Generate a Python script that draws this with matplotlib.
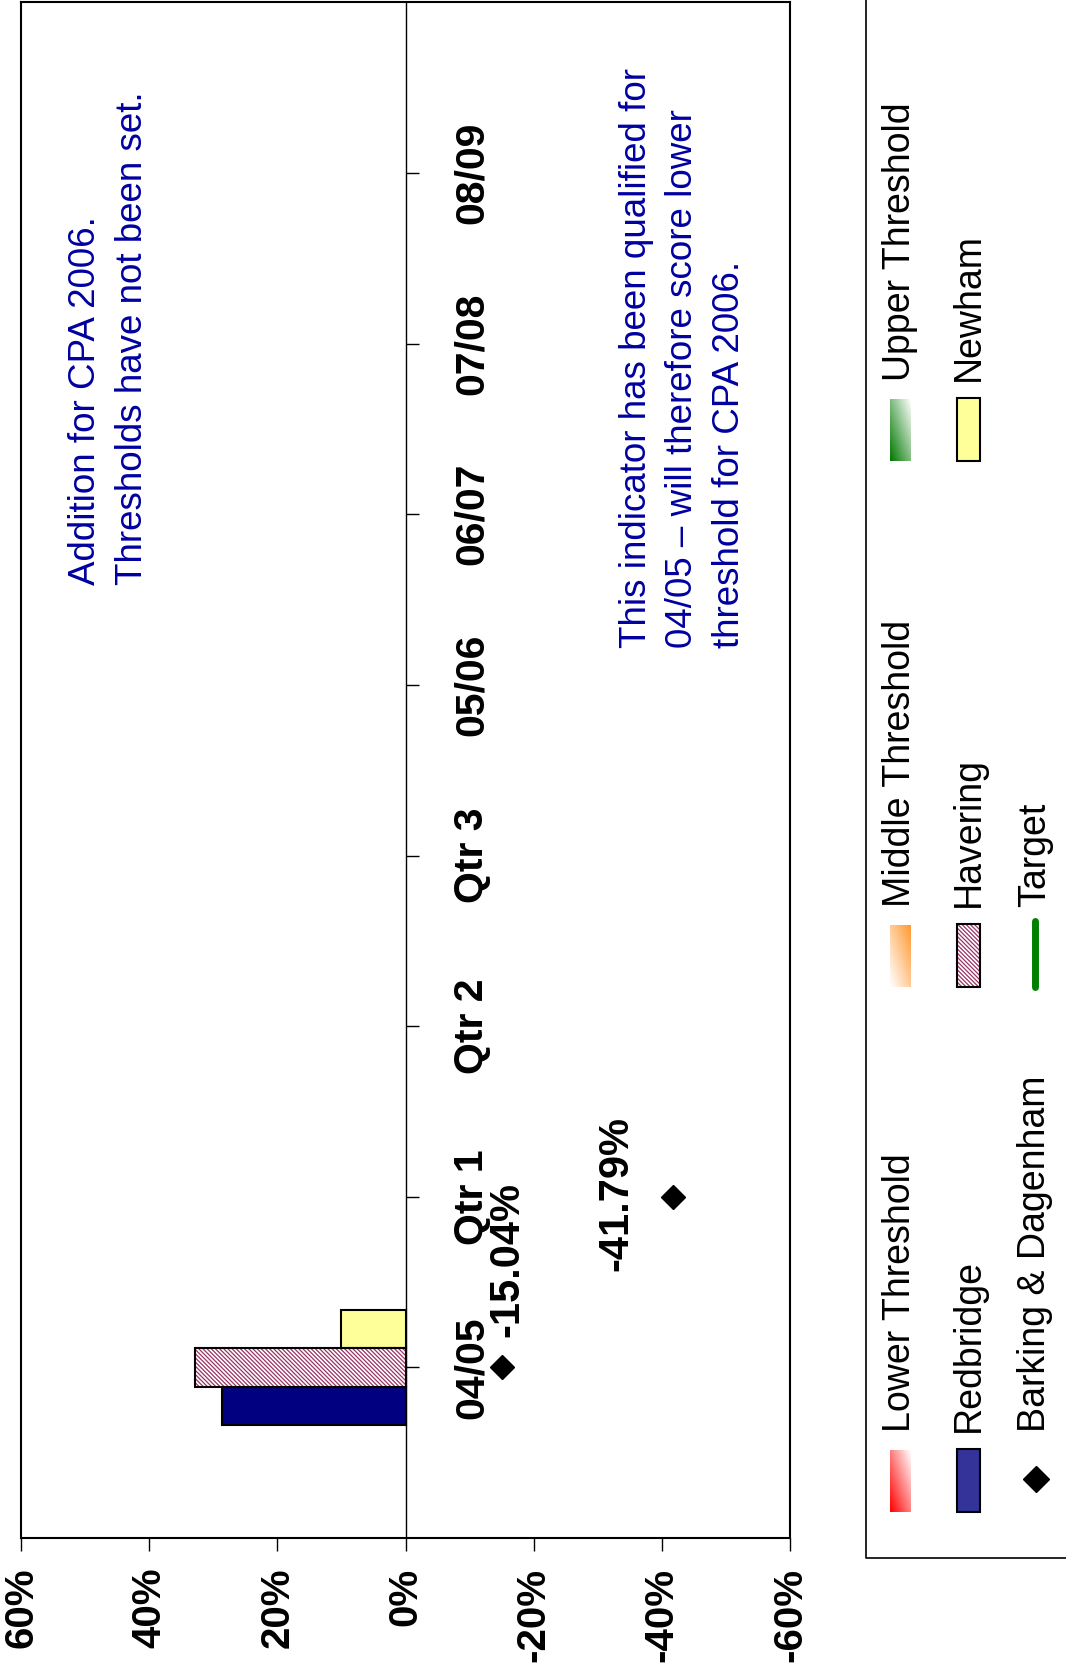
import numpy as np
import matplotlib.pyplot as plt

plt.rcParams['font.family'] = ['Liberation Sans', 'DejaVu Sans']
plt.rcParams['hatch.linewidth'] = 0.9

# Periods along the category axis
periods = ['04/05', 'Qtr 1', 'Qtr 2', 'Qtr 3', '05/06', '06/07', '07/08', '08/09']
nan = np.nan

# Borough results (%)
redbridge = [28.7, nan, nan, nan, nan, nan, nan, nan]
havering = [32.8, nan, nan, nan, nan, nan, nan, nan]
newham = [10.1, nan, nan, nan, nan, nan, nan, nan]
barking = [-15.04, -41.79, nan, nan, nan, nan, nan, nan]

value_ticks = [60, 40, 20, 0, -20, -40, -60]
value_labels = ['60%', '40%', '20%', '0%', '-20%', '-40%', '-60%']

note_left = 'Addition for CPA 2006.\nThresholds have not been set.'
note_right = ('This indicator has been qualified for\n'
              '04/05 \u2013 will therefore score lower\n'
              'threshold for CPA 2006.')

W, H = 1066, 1675
fig = plt.figure(figsize=(W / 100, H / 100), dpi=100)


def box(x0, y0, x1, y1):
    # pixel box (origin top-left) to figure fraction
    return [x0 / W, 1 - y1 / H, (x1 - x0) / W, (y1 - y0) / H]


# chart is drawn turned on its side: categories run up, values run left
ax = fig.add_axes(box(21, 2.4, 790, 1538))
pos = np.arange(len(periods))
bh = 0.225
hatch = '\\' * 8

ax.barh(pos - bh, redbridge, height=bh, color='#000080', edgecolor='black', lw=1.5, zorder=2)
ax.barh(pos, havering, height=bh, color='white', edgecolor='#993366',
        hatch=hatch, lw=0, zorder=2)
ax.barh(pos, havering, height=bh, fill=False, edgecolor='black', lw=1.5, zorder=3)
ax.barh(pos + bh, newham, height=bh, color='#FFFF99', edgecolor='black', lw=1.5, zorder=2)

# category axis at 0 with its ticks
ax.axvline(0, color='black', lw=1, zorder=1)
ax.hlines(pos, 0, -2.1, color='black', lw=1, zorder=1)
for p, name in zip(pos, periods):
    ax.text(-10.3, p, name, rotation=90, ha='center', va='center',
            fontsize=29.5, fontweight='bold')

ax.plot(barking, pos, 'D', color='black', ms=12, ls='none', zorder=4)
label_offsets = [(4, 78), (-41, 2)]
for v, p, off in zip(barking, pos, label_offsets):
    if np.isnan(v):
        continue
    ax.annotate(f'{v:.2f}%', (v, p), xytext=off, textcoords='offset points',
                rotation=90, ha='center', va='center', fontsize=30, fontweight='bold')

ax.set_xlim(60, -60)
ax.set_ylim(-1, 8)
ax.set_xticks(value_ticks)
ax.set_xticklabels(value_labels, rotation=90, fontsize=29, fontweight='bold')
ax.tick_params(axis='x', length=9.5, width=1, pad=12, direction='out')
ax.set_yticks([])
for s in ax.spines.values():
    s.set_linewidth(1.5)

# overlay in pixel units for notes and the legend
ov = fig.add_axes([0, 0, 1, 1])
ov.set_xlim(0, W)
ov.set_ylim(H, 0)
ov.axis('off')

note_kw = dict(rotation=90, ha='center', va='bottom', multialignment='left',
               fontsize=26.5, color='#0000A0', linespacing=1.42)
ov.text(109, 585, note_left, **note_kw)
ov.text(683, 648, note_right, **note_kw)

# legend frame (left and bottom edges visible)
ov.plot([866, 866, W + 5], [-5, 1558, 1558], color='black', lw=1.2, clip_on=False)

legend_cols = [900, 968.5, 1035]
group_bottom = [1512, 987, 461]
leg_font = 27


def gradient(x0, x1, y0, y1, rgb, corner):
    nx, ny = 30, 80
    u = np.linspace(0, 1, nx)[None, :]
    v = np.linspace(0, 1, ny)[:, None]
    if corner == 'bl':
        t = (u + (1 - v)) / 2
    else:
        t = ((1 - u) + v) / 2
    c = np.array(rgb)[None, None, :]
    img = c * (1 - t[..., None]) + t[..., None]
    ov.imshow(img, extent=(x0, x1, y1, y0), aspect='auto', origin='upper', zorder=2)


def legend_text(x, yb, label):
    ov.text(x, yb - 80, label, rotation=90, ha='center', va='bottom', fontsize=leg_font)


threshold_names = ['Lower Threshold', 'Middle Threshold', 'Upper Threshold']
threshold_rgb = [(1, 0, 0), (1, 0.6, 0.2), (0, 0.47, 0)]
threshold_corner = ['bl', 'tr', 'bl']
for yb, name, rgb, cn in zip(group_bottom, threshold_names, threshold_rgb, threshold_corner):
    x = legend_cols[0]
    gradient(x - 10.5, x + 10.5, yb - 62, yb, rgb, cn)
    legend_text(x, yb, name)

series_names = ['Redbridge', 'Havering', 'Newham']
series_face = ['#333399', 'white', '#FFFF99']
for yb, name, fc in zip(group_bottom, series_names, series_face):
    x = legend_cols[1]
    if name == 'Havering':
        ov.add_patch(plt.Rectangle((x - 11.5, yb - 63), 23, 63, facecolor='white',
                                   edgecolor='#993366', hatch=hatch, lw=0, zorder=2))
        ov.add_patch(plt.Rectangle((x - 11.5, yb - 63), 23, 63, fill=False,
                                   edgecolor='black', lw=1.5, zorder=3))
    else:
        ov.add_patch(plt.Rectangle((x - 11.5, yb - 63), 23, 63, facecolor=fc,
                                   edgecolor='black', lw=1.5, zorder=2))
    legend_text(x, yb, name)

x = legend_cols[2]
ov.plot(x + 1, group_bottom[0] - 33, 'D', color='black', ms=13)
legend_text(x, group_bottom[0], 'Barking & Dagenham')
ov.plot([x, x], [group_bottom[1] - 66, group_bottom[1]], color='green', lw=5,
        solid_capstyle='round')
legend_text(x, group_bottom[1], 'Target')

fig.savefig('out.png', dpi=100)
